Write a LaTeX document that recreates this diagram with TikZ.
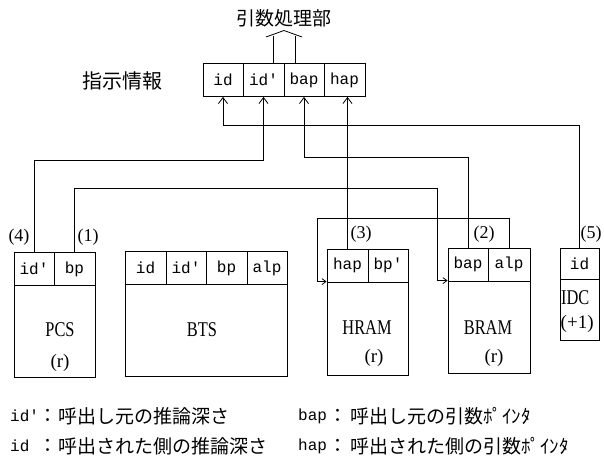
\documentclass[tikz,border=0pt]{standalone}
\usepackage{fontspec}
\usetikzlibrary{arrows.meta}
\newfontfamily\jpf{Noto Sans CJK JP}
\newfontfamily\monof{Liberation Mono}
\newfontfamily\serf{Liberation Serif}
\tikzset{
  cell/.style={draw, line width=0.8pt, inner sep=0pt, minimum height=33pt, font=\monof\fontsize{16}{16}\selectfont},
  body/.style={draw, line width=0.8pt, inner sep=0pt},
  boxlab/.style={inner sep=0pt, font=\serf\fontsize{21}{21}\selectfont},
  parlab/.style={inner sep=0pt, font=\serf\fontsize{19}{19}\selectfont},
  numlab/.style={inner sep=0pt, font=\serf\fontsize{18}{18}\selectfont},
  jp/.style={inner sep=0pt, font=\jpf\fontsize{19}{19}\selectfont},
  asc/.style={inner sep=0pt, font=\monof\fontsize{16}{16}\selectfont},
  conn/.style={line width=0.8pt},
  uparr/.style={conn, -{Straight Barb[length=6pt,width=9pt,line width=0.8pt]}},
  sidearr/.style={conn, -{Straight Barb[length=4pt,width=6pt,line width=0.8pt]}}
}
\begin{document}
\begin{tikzpicture}[x=1pt,y=-1pt]
\useasboundingbox (0,0) rectangle (604,465);
% title and instruction info
\node[jp] (title) at (284,18) {引数処理部};
\node[jp, font=\jpf\fontsize{20}{20}\selectfont] (shiji) at (122,81) {指示情報};
\node[cell, minimum width=40pt] (i1) at (223,80) {id};
\node[cell, minimum width=41pt] (i2) at (263.5,80) {id'};
\node[cell, minimum width=40pt] (i3) at (304,80) {bap};
\node[cell, minimum width=41pt] (i4) at (344.5,80) {hap};
% hollow up arrow
\coordinate (ua1) at (273,36);
\coordinate (ua2) at (295,36);
\draw[conn] (273,63.5) -- (ua1);
\draw[conn] (295,63.5) -- (ua2);
\draw[conn] (266,37) -- (284,30.5) -- (302,37);
% PCS
\node[cell, minimum width=40pt] (pcs1) at (34,269) {id'};
\node[cell, minimum width=41pt] (pcs2) at (74.5,269) {bp};
\node[body, minimum width=81pt, minimum height=92pt] (pcsb) at (54.5,331) {};
\node[boxlab] (pcst) at (60,330) {\scalebox{0.78}[1]{PCS}};
\node[parlab] (pcsr) at (60,363) {(r)};
% BTS
\node[cell, minimum width=41pt] (bts1) at (145.5,268) {id};
\node[cell, minimum width=40pt] (bts2) at (186,268) {id'};
\node[cell, minimum width=41pt] (bts3) at (226.5,268) {bp};
\node[cell, minimum width=40pt] (bts4) at (267,268) {alp};
\node[body, minimum width=162pt, minimum height=92pt] (btsb) at (206,330) {};
\node[boxlab] (btst) at (202,330) {\scalebox{0.78}[1]{BTS}};
% HRAM
\node[cell, minimum width=41pt] (hram1) at (347.5,265.5) {hap};
\node[cell, minimum width=40pt] (hram2) at (388,265.5) {bp'};
\node[body, minimum width=81pt, minimum height=93pt] (hramb) at (367.5,328.5) {};
\node[boxlab] (hramt) at (367,328) {\scalebox{0.78}[1]{HRAM}};
\node[parlab] (hramr) at (374,358) {(r)};
% BRAM
\node[cell, minimum width=40pt] (bram1) at (468,264.5) {bap};
\node[cell, minimum width=42pt] (bram2) at (509,264.5) {alp};
\node[body, minimum width=82pt, minimum height=92pt] (bramb) at (489,327) {};
\node[boxlab] (bramt) at (488,328) {\scalebox{0.78}[1]{BRAM}};
\node[parlab] (bramr) at (494,358) {(r)};
% IDC
\node[cell, minimum width=39pt, minimum height=31pt] (idc1) at (579.5,263.5) {id};
\node[body, minimum width=39pt, minimum height=61pt] (idcb) at (579.5,309.5) {};
\node[boxlab, anchor=west] (idct) at (561,298) {\scalebox{0.78}[1]{IDC}};
\node[parlab, anchor=west] (idcp) at (560.5,324) {(+1)};
% number labels
\node[numlab] (n4) at (19,237) {(4)};
\node[numlab] (n1) at (88,237) {(1)};
\node[numlab] (n3) at (361,234) {(3)};
\node[numlab] (n2) at (484,234) {(2)};
\node[numlab] (n5) at (591,234) {(5)};
% connectors
\coordinate (k1) at (437,188);
\coordinate (k2) at (317,218);
\draw[uparr] (idc1.north) -- (idc1.north |- 0,125) -| (i1.south);
\draw[uparr] (pcs1.north) -- (pcs1.north |- 0,160) -| (i2.south);
\draw[uparr] (bram1.north) -- (bram1.north |- 0,157) -| (i3.south);
\draw[uparr] (hram1.north) -- (hram1.north |- i4.south);
\draw[sidearr] (pcs2.north) |- (k1) |- (bramb.north west);
\draw[sidearr] (bram2.north) |- (k2) |- (hramb.north west);
% legend
\node[asc, anchor=west] (l1a) at (10,416) {id'};
\node[jp] (l1c) at (48,416) {：};
\node[jp, anchor=west] (l1j) at (58,416) {呼出し元の推論深さ};
\node[asc, anchor=west] (l1b) at (298,416) {bap};
\node[jp] (l1d) at (338,416) {：};
\node[jp, anchor=west] (l1k) at (350,416) {呼出し元の引数ﾎﾟｲﾝﾀ};
\node[asc, anchor=west] (l2a) at (10,446) {id};
\node[jp] (l2c) at (48,446) {：};
\node[jp, anchor=west] (l2j) at (58,446) {呼出された側の推論深さ};
\node[asc, anchor=west] (l2b) at (298,446) {hap};
\node[jp] (l2d) at (338,446) {：};
\node[jp, anchor=west] (l2k) at (350,446) {呼出された側の引数ﾎﾟｲﾝﾀ};
\end{tikzpicture}
\end{document}
